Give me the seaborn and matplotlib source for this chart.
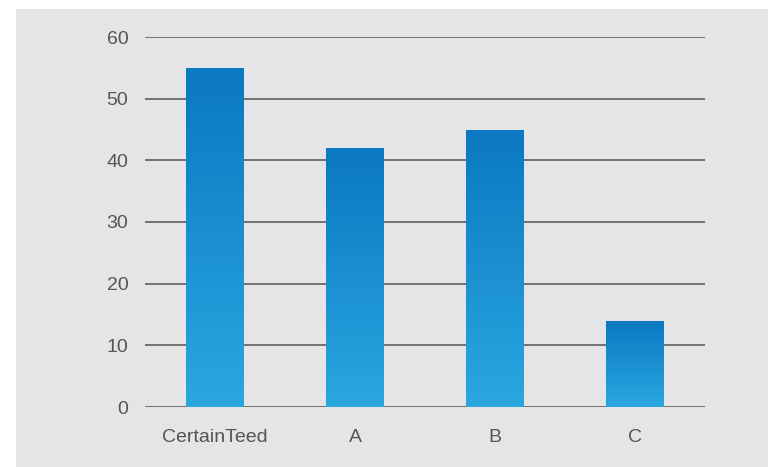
import numpy as np
import pandas as pd
import matplotlib
matplotlib.use("Agg")
import matplotlib.pyplot as plt
import seaborn as sns
from matplotlib.patches import Rectangle
from matplotlib.colors import LinearSegmentedColormap

# data
brands = ["CertainTeed", "A", "B", "C"]
values = [55, 42, 45, 14]
y_ticks = [0, 10, 20, 30, 40, 50, 60]

df = pd.DataFrame({"brand": brands, "value": values})

sns.set_theme(style="white")
plt.rcParams["font.family"] = ["Liberation Sans", "DejaVu Sans"]

fig = plt.figure(figsize=(7.68, 4.67), dpi=100)
fig.patch.set_facecolor("white")
# gray panel behind the chart
fig.patches.append(Rectangle((16 / 768, 0), 1, 1 - 9 / 467, transform=fig.transFigure,
                             facecolor="#e5e5e7", edgecolor="none", zorder=-10))

ax = fig.add_axes([145 / 768, 60 / 467, 560 / 768, 370 / 467])
ax.set_facecolor("none")

sns.barplot(data=df, x="brand", y="value", color="#1a8fd2", width=0.41, ax=ax,
            saturation=1, zorder=3)

# vertical gradient on every bar: dark blue at the top, lighter at the base
cmap = LinearSegmentedColormap.from_list("bar", ["#2ba7e0", "#0a78c2"])
grad = np.linspace(0, 1, 256).reshape(-1, 1)
for bar in ax.patches:
    x0, w, h = bar.get_x(), bar.get_width(), bar.get_height()
    im = ax.imshow(grad, cmap=cmap, aspect="auto", origin="lower",
                   extent=[x0, x0 + w, 0, h], zorder=4)
    im.set_clip_path(bar)
    bar.set_alpha(0)

ax.set_xlim(-0.5, 3.5)
ax.set_ylim(0, 60)
ax.set_yticks(y_ticks)
ax.yaxis.grid(True, color="#5e5e5e", linewidth=1.2, zorder=1)
ax.set_axisbelow(True)
for s in ax.spines.values():
    s.set_visible(False)
ax.tick_params(axis="both", length=0, labelsize=14, labelcolor="#555555")
ax.tick_params(axis="y", pad=12)
ax.tick_params(axis="x", pad=16)
ax.set_xlabel("")
ax.set_ylabel("")

fig.savefig("out.png", dpi=100)
